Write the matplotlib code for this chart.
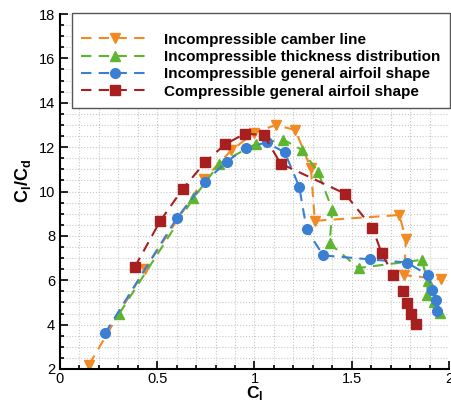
import numpy as np
import matplotlib
matplotlib.use('Agg')
import matplotlib.pyplot as plt
from matplotlib.ticker import MultipleLocator

plt.rcParams['font.family'] = 'Liberation Sans'
plt.rcParams['mathtext.fontset'] = 'custom'
plt.rcParams['mathtext.rm'] = 'Liberation Sans'
plt.rcParams['mathtext.bf'] = 'Liberation Sans:bold'

# camber line
cl_camber = [0.15, 0.437, 0.74, 0.88, 1.0, 1.11, 1.21, 1.29, 1.31, 1.745, 1.778, 1.77, 1.96]
ld_camber = [2.2, 6.5, 10.55, 11.85, 12.65, 13.0, 12.77, 11.04, 8.68, 8.94, 7.84, 6.23, 6.05]

# thickness distribution
cl_thick = [0.305, 0.685, 0.82, 1.01, 1.148, 1.243, 1.326, 1.40, 1.386, 1.535, 1.86, 1.89, 1.888, 1.923, 1.953]
ld_thick = [4.5, 9.69, 11.26, 12.16, 12.34, 11.88, 10.89, 9.18, 7.66, 6.55, 6.92, 5.95, 5.33, 5.03, 4.51]

# general airfoil, incompressible
cl_inc = [0.231, 0.6, 0.743, 0.857, 0.956, 1.062, 1.156, 1.23, 1.268, 1.353, 1.595, 1.783, 1.893, 1.912, 1.932, 1.936]
ld_inc = [3.6, 8.79, 10.42, 11.34, 11.98, 12.21, 11.76, 10.21, 8.29, 7.12, 6.94, 6.8, 6.23, 5.57, 5.1, 4.62]

# general airfoil, compressible
cl_comp = [0.385, 0.515, 0.63, 0.745, 0.848, 0.951, 1.048, 1.134, 1.464, 1.606, 1.653, 1.714, 1.764, 1.783, 1.802, 1.829]
ld_comp = [6.6, 8.67, 10.1, 11.31, 12.12, 12.61, 12.54, 11.26, 9.91, 8.37, 7.24, 6.23, 5.5, 4.96, 4.49, 4.03]

labels = ['Incompressible camber line',
          'Incompressible thickness distribution',
          'Incompressible general airfoil shape',
          'Compressible general airfoil shape']

fig = plt.figure(figsize=(4.52, 4.05), dpi=100)
ax = fig.add_axes([0.1327, 0.0889, 0.8607, 0.8765])

dash = (0, (5, 3.5))
ax.plot(cl_camber, ld_camber, linestyle=dash, color='#f28a24', marker='v', ms=7, lw=1.5, label=labels[0])
ax.plot(cl_thick, ld_thick, linestyle=dash, color='#5db530', marker='^', ms=7, lw=1.5, label=labels[1])
ax.plot(cl_inc, ld_inc, linestyle=dash, color='#3b7fd4', marker='o', ms=7, lw=1.5, label=labels[2])
ax.plot(cl_comp, ld_comp, linestyle=dash, color='#a81f1f', marker='s', ms=6.5, lw=1.5, label=labels[3])

ax.set_xlim(0, 2)
ax.set_ylim(2, 18)
ax.xaxis.set_major_locator(MultipleLocator(0.5))
ax.xaxis.set_minor_locator(MultipleLocator(0.1))
ax.yaxis.set_major_locator(MultipleLocator(2))
ax.yaxis.set_minor_locator(MultipleLocator(0.5))
ax.xaxis.set_major_formatter(plt.FuncFormatter(lambda v, p: ('%g' % v)))
ax.grid(which='both', color='#c8c8c8', linestyle=':', linewidth=0.8)
ax.set_axisbelow(True)
ax.tick_params(which='both', direction='in', labelsize=10.5, width=1.2)
ax.tick_params(which='major', length=6)
ax.tick_params(which='minor', length=3)
ax.tick_params(axis='x', pad=2)
for s in ['top', 'right']:
    ax.spines[s].set_visible(False)
for s in ['left', 'bottom']:
    ax.spines[s].set_linewidth(1.5)

ax.set_xlabel(r'$\mathbf{C_l}$', fontsize=12.5, va='top')
ax.xaxis.set_label_coords(0.5, -0.043)
ax.set_ylabel(r'$\mathbf{C_l/C_d}$', fontsize=13, va='center')
ax.yaxis.set_label_coords(-0.095, 0.53)

leg = ax.legend(loc='upper right', bbox_to_anchor=(450 / 452, 1 - 13 / 405),
                bbox_transform=fig.transFigure,
                prop={'weight': 'bold', 'size': 11},
                title=' ', title_fontsize=5,
                frameon=True, fancybox=False, handlelength=4.45, borderpad=0.6, labelspacing=0.22,
                handletextpad=1.0, borderaxespad=0)
leg.get_frame().set_edgecolor('#555555')
leg.get_frame().set_linewidth(1.0)
leg.get_frame().set_alpha(1)

fig.savefig('out.png', dpi=100)
